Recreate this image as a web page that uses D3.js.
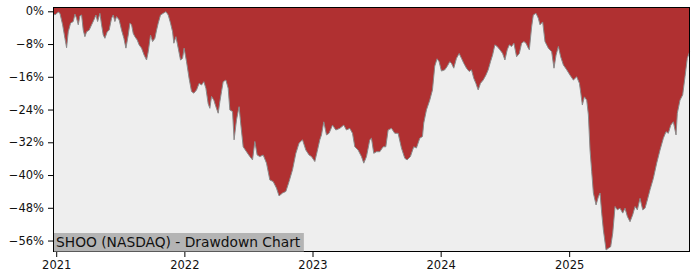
<!DOCTYPE html>
<html>
<head>
<meta charset="utf-8">
<script src="https://cdn.jsdelivr.net/npm/d3@7"></script>
<style>
  body { margin: 0; background: #fff; }
  text { font-family: "DejaVu Sans", sans-serif; }
</style>
</head>
<body>
<script>
// Drawdown: time as decimal years, value in %
const years = [
  2020.977, 2020.990, 2021.016, 2021.029, 2021.050, 2021.068, 2021.081, 2021.094, 2021.112, 2021.133,
  2021.146, 2021.159, 2021.172, 2021.185, 2021.198, 2021.211, 2021.224, 2021.237, 2021.257, 2021.276,
  2021.294, 2021.310, 2021.323, 2021.341, 2021.354, 2021.367, 2021.380, 2021.398, 2021.413, 2021.432,
  2021.445, 2021.458, 2021.471, 2021.491, 2021.510, 2021.528, 2021.544, 2021.562, 2021.575, 2021.588,
  2021.601, 2021.614, 2021.632, 2021.647, 2021.666, 2021.686, 2021.705, 2021.718, 2021.736, 2021.752,
  2021.770, 2021.783, 2021.796, 2021.814, 2021.835, 2021.856, 2021.874, 2021.892, 2021.908, 2021.918,
  2021.934, 2021.952, 2021.970, 2021.986, 2021.998, 2022.017, 2022.037, 2022.056, 2022.074, 2022.095,
  2022.115, 2022.134, 2022.152, 2022.168, 2022.186, 2022.199, 2022.212, 2022.230, 2022.246, 2022.264,
  2022.277, 2022.290, 2022.303, 2022.324, 2022.342, 2022.355, 2022.376, 2022.388, 2022.407, 2022.427,
  2022.441, 2022.459, 2022.485, 2022.511, 2022.532, 2022.550, 2022.568, 2022.589, 2022.615, 2022.641,
  2022.667, 2022.693, 2022.719, 2022.739, 2022.766, 2022.792, 2022.817, 2022.844, 2022.870, 2022.895,
  2022.922, 2022.948, 2022.973, 2022.992, 2023.018, 2023.036, 2023.057, 2023.070, 2023.088, 2023.109,
  2023.129, 2023.156, 2023.182, 2023.213, 2023.244, 2023.265, 2023.291, 2023.312, 2023.330, 2023.356,
  2023.382, 2023.400, 2023.421, 2023.447, 2023.460, 2023.478, 2023.499, 2023.525, 2023.551, 2023.572,
  2023.590, 2023.616, 2023.642, 2023.668, 2023.694, 2023.720, 2023.738, 2023.764, 2023.790, 2023.811,
  2023.837, 2023.858, 2023.868, 2023.889, 2023.915, 2023.936, 2023.954, 2023.972, 2023.988, 2024.006,
  2024.032, 2024.050, 2024.071, 2024.084, 2024.102, 2024.123, 2024.144, 2024.162, 2024.180, 2024.201,
  2024.222, 2024.240, 2024.258, 2024.274, 2024.292, 2024.310, 2024.331, 2024.352, 2024.370, 2024.388,
  2024.404, 2024.422, 2024.440, 2024.461, 2024.482, 2024.500, 2024.518, 2024.534, 2024.552, 2024.570,
  2024.591, 2024.612, 2024.630, 2024.648, 2024.664, 2024.682, 2024.690, 2024.708, 2024.721, 2024.742,
  2024.760, 2024.773, 2024.794, 2024.812, 2024.838, 2024.864, 2024.882, 2024.898, 2024.916, 2024.934,
  2024.955, 2024.981, 2025.007, 2025.033, 2025.059, 2025.080, 2025.091, 2025.103, 2025.119, 2025.137,
  2025.150, 2025.163, 2025.176, 2025.189, 2025.210, 2025.228, 2025.241, 2025.254, 2025.267, 2025.288,
  2025.306, 2025.324, 2025.340, 2025.358, 2025.376, 2025.397, 2025.418, 2025.436, 2025.454, 2025.475,
  2025.496, 2025.514, 2025.532, 2025.553, 2025.574, 2025.592, 2025.610, 2025.631, 2025.657, 2025.683,
  2025.709, 2025.735, 2025.756, 2025.774, 2025.793, 2025.813, 2025.834, 2025.844, 2025.865, 2025.886,
  2025.904, 2025.922, 2025.940
];
const drawdown = [
  -0.5, -0.9, -0.2, -0.5, -3.3, -6.6, -8.9, -5.0, -2.9, -2.5,
  -0.7, -1.7, -3.3, -1.1, -0.9, -4.6, -6.2, -5.0, -4.6, -3.3,
  -2.1, -0.9, -2.5, -0.5, -3.3, -5.8, -6.6, -5.0, -4.6, -1.7,
  -0.9, -2.5, -1.3, -2.1, -4.6, -6.6, -9.0, -5.8, -2.9, -3.3,
  -5.4, -6.2, -7.0, -8.2, -9.0, -10.7, -11.9, -9.9, -5.8, -7.4,
  -6.6, -4.6, -2.9, -0.9, -0.5, -0.1, -0.9, -2.9, -5.0, -7.8,
  -6.2, -9.0, -11.9, -11.5, -9.0, -12.3, -16.4, -19.6, -20.0, -19.2,
  -17.6, -18.0, -17.2, -18.8, -22.6, -23.7, -20.8, -21.7, -23.3, -24.9,
  -22.1, -19.6, -17.2, -16.8, -18.8, -24.1, -24.5, -31.4, -26.5, -23.3,
  -27.8, -33.1, -34.3, -35.5, -36.3, -31.8, -35.1, -35.5, -35.1, -37.1,
  -41.2, -41.6, -43.2, -45.1, -44.4, -44.0, -41.6, -38.7, -34.7, -32.2,
  -31.4, -33.9, -35.1, -35.5, -36.7, -34.3, -31.4, -30.2, -27.0, -30.2,
  -29.8, -27.8, -29.0, -28.6, -27.8, -29.0, -28.6, -29.8, -33.1, -33.9,
  -35.5, -37.1, -35.5, -31.4, -31.0, -34.7, -34.3, -34.3, -33.1, -33.1,
  -29.0, -28.6, -29.8, -29.8, -33.4, -35.9, -36.3, -35.5, -33.1, -33.4,
  -31.0, -30.6, -27.3, -24.1, -21.7, -19.2, -13.4, -11.6, -12.3, -14.6,
  -14.3, -13.5, -12.3, -12.7, -13.9, -11.5, -10.3, -11.5, -12.7, -13.9,
  -14.7, -14.3, -16.4, -17.6, -19.2, -17.6, -16.8, -15.6, -14.3, -12.3,
  -10.7, -8.2, -8.6, -9.4, -10.3, -11.9, -9.4, -8.2, -8.6, -7.8,
  -11.1, -10.3, -7.8, -7.4, -7.8, -9.0, -9.4, -3.8, -0.9, -0.5,
  -1.7, -3.3, -2.6, -7.4, -9.0, -9.9, -13.9, -10.7, -8.6, -11.1,
  -13.1, -14.3, -15.6, -16.8, -16.0, -17.6, -20.0, -22.9, -20.9, -21.7,
  -25.3, -33.9, -39.2, -44.4, -47.3, -45.3, -44.4, -49.3, -53.4, -58.3,
  -57.9, -57.5, -54.2, -47.7, -48.5, -48.1, -49.3, -48.1, -50.1, -51.4,
  -49.7, -47.7, -48.5, -45.7, -48.5, -48.1, -46.1, -43.6, -40.8, -37.1,
  -33.9, -31.0, -29.4, -29.8, -27.8, -27.0, -30.2, -24.9, -21.7, -20.4,
  -16.0, -11.5, -9.9
];
const yTicks = [0, -8, -16, -24, -32, -40, -48, -56];
const xTickYears = [2021, 2022, 2023, 2024, 2025];
const title = "SHOO (NASDAQ) - Drawdown Chart";

const width = 700, height = 280;
const margin = { top: 7, right: 10, bottom: 28, left: 53 };

// decimal year -> Date
function toDate(y) {
  const yr = Math.floor(y);
  const a = new Date(yr, 0, 1).getTime(), b = new Date(yr + 1, 0, 1).getTime();
  return new Date(a + (y - yr) * (b - a));
}

const data = years.map((y, i) => ({ date: toDate(y), value: drawdown[i] }));

const svg = d3.select("body").append("svg")
  .attr("width", width)
  .attr("height", height);

const x = d3.scaleTime()
  .domain([toDate(2020.975), toDate(2025.943)])
  .range([margin.left, width - margin.right]);

const y = d3.scaleLinear()
  .domain([-58.8, 1.05])
  .range([height - margin.bottom, margin.top]);

// plot background
svg.append("rect")
  .attr("x", margin.left).attr("y", margin.top)
  .attr("width", width - margin.left - margin.right)
  .attr("height", height - margin.top - margin.bottom)
  .attr("fill", "#eeeeee");

// red area from the curve up to the top of the axes
const area = d3.area()
  .x(d => x(d.date))
  .y0(margin.top)
  .y1(d => y(d.value));

svg.append("path")
  .datum(data)
  .attr("d", area)
  .attr("fill", "#b03031");

svg.append("path")
  .datum(data)
  .attr("d", d3.line().x(d => x(d.date)).y(d => y(d.value)))
  .attr("fill", "none")
  .attr("stroke", "#8a8a8a")
  .attr("stroke-width", 1);

// axes
const fmt = d => d === 0 ? "0%" : "\u2212" + Math.abs(d) + "%";

const yAxis = svg.append("g")
  .attr("transform", `translate(${margin.left},0)`)
  .call(d3.axisLeft(y).tickValues(yTicks).tickFormat(fmt).tickSize(5).tickPadding(4));

const xAxis = svg.append("g")
  .attr("transform", `translate(0,${height - margin.bottom})`)
  .call(d3.axisBottom(x).tickValues(xTickYears.map(v => new Date(v, 0, 1)))
    .tickFormat(d3.timeFormat("%Y")).tickSize(5).tickPadding(4));

[xAxis, yAxis].forEach(g => {
  g.select(".domain").remove();
  g.selectAll("text").attr("font-size", 11.5).attr("fill", "#111")
    .attr("font-family", "DejaVu Sans, sans-serif");
  g.selectAll("line").attr("stroke", "#000");
});

// frame
svg.append("rect")
  .attr("x", margin.left + 0.5).attr("y", margin.top + 0.5)
  .attr("width", width - margin.left - margin.right - 1)
  .attr("height", height - margin.top - margin.bottom - 1)
  .attr("fill", "none")
  .attr("stroke", "#000")
  .attr("stroke-width", 1);

// title label in lower left
const label = svg.append("g");
const lbBg = label.append("rect").attr("fill", "#b4b4b4");
const lbText = label.append("text")
  .attr("x", margin.left + 3)
  .attr("y", height - margin.bottom - 5)
  .attr("font-size", 13.8)
  .attr("fill", "#111")
  .text(title);
const bb = lbText.node().getBBox();
lbBg.attr("x", margin.left + 1)
  .attr("y", height - margin.bottom - 19)
  .attr("width", bb.width + 5)
  .attr("height", 18.5);
</script>
</body>
</html>
